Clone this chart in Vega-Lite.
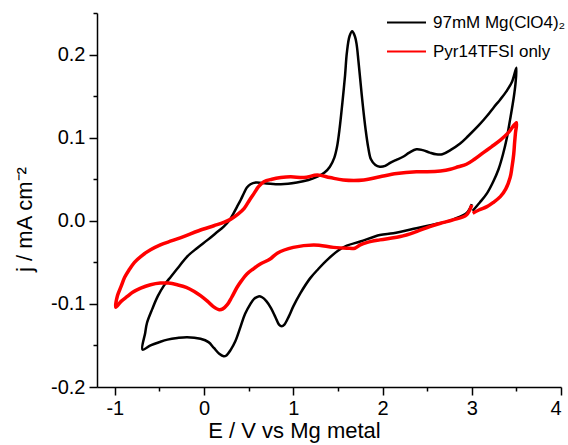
{
  "$schema": "https://vega.github.io/schema/vega-lite/v6.json",
  "width": 464,
  "height": 374,
  "autosize": "none",
  "padding": {"left": 97, "top": 13, "right": 7, "bottom": 58},
  "background": "white",
  "config": {"view": {"stroke": null}, "font": "Liberation Sans"},
  "datasets": {
    "mg": [
      {"i":0,"x":3.00,"y":0.020},{"i":1,"x":2.94,"y":0.009},{"i":2,"x":2.80,"y":0.002},{"i":3,"x":2.72,"y":-0.001},{"i":4,"x":2.55,"y":-0.005},{"i":5,"x":2.38,"y":-0.009},{"i":6,"x":2.12,"y":-0.015},{"i":7,"x":1.97,"y":-0.017},{"i":8,"x":1.75,"y":-0.025},{"i":9,"x":1.60,"y":-0.030},{"i":10,"x":1.50,"y":-0.036},{"i":11,"x":1.38,"y":-0.047},{"i":12,"x":1.28,"y":-0.058},{"i":13,"x":1.19,"y":-0.069},{"i":14,"x":1.08,"y":-0.087},{"i":15,"x":1.00,"y":-0.103},{"i":16,"x":0.95,"y":-0.115},{"i":17,"x":0.90,"y":-0.125},{"i":18,"x":0.87,"y":-0.127},{"i":19,"x":0.84,"y":-0.125},{"i":20,"x":0.80,"y":-0.116},{"i":21,"x":0.75,"y":-0.105},{"i":22,"x":0.70,"y":-0.097},{"i":23,"x":0.65,"y":-0.092},{"i":24,"x":0.61,"y":-0.091},{"i":25,"x":0.56,"y":-0.094},{"i":26,"x":0.52,"y":-0.100},{"i":27,"x":0.46,"y":-0.112},{"i":28,"x":0.41,"y":-0.127},{"i":29,"x":0.35,"y":-0.145},{"i":30,"x":0.30,"y":-0.155},{"i":31,"x":0.25,"y":-0.162},{"i":32,"x":0.22,"y":-0.163},{"i":33,"x":0.17,"y":-0.160},{"i":34,"x":0.11,"y":-0.153},{"i":35,"x":0.05,"y":-0.146},{"i":36,"x":-0.04,"y":-0.142},{"i":37,"x":-0.19,"y":-0.140},{"i":38,"x":-0.30,"y":-0.141},{"i":39,"x":-0.41,"y":-0.143},{"i":40,"x":-0.50,"y":-0.146},{"i":41,"x":-0.60,"y":-0.150},{"i":42,"x":-0.69,"y":-0.155},
      {"i":43,"x":-0.66,"y":-0.135},{"i":44,"x":-0.64,"y":-0.123},{"i":45,"x":-0.58,"y":-0.106},{"i":46,"x":-0.52,"y":-0.091},{"i":47,"x":-0.45,"y":-0.078},{"i":48,"x":-0.37,"y":-0.067},{"i":49,"x":-0.28,"y":-0.055},{"i":50,"x":-0.19,"y":-0.043},{"i":51,"x":-0.08,"y":-0.033},{"i":52,"x":0.04,"y":-0.023},{"i":53,"x":0.13,"y":-0.015},{"i":54,"x":0.22,"y":-0.007},{"i":55,"x":0.28,"y":0.000},{"i":56,"x":0.33,"y":0.009},{"i":57,"x":0.37,"y":0.017},{"i":58,"x":0.41,"y":0.025},{"i":59,"x":0.45,"y":0.034},{"i":60,"x":0.48,"y":0.040},{"i":61,"x":0.52,"y":0.044},{"i":62,"x":0.58,"y":0.046},{"i":63,"x":0.70,"y":0.045},{"i":64,"x":0.86,"y":0.044},{"i":65,"x":1.04,"y":0.046},{"i":66,"x":1.17,"y":0.049},{"i":67,"x":1.27,"y":0.053},{"i":68,"x":1.35,"y":0.058},{"i":69,"x":1.41,"y":0.065},{"i":70,"x":1.46,"y":0.076},{"i":71,"x":1.49,"y":0.089},{"i":72,"x":1.52,"y":0.112},{"i":73,"x":1.55,"y":0.142},{"i":74,"x":1.58,"y":0.175},{"i":75,"x":1.60,"y":0.202},{"i":76,"x":1.63,"y":0.222},{"i":77,"x":1.66,"y":0.228},{"i":78,"x":1.69,"y":0.222},{"i":79,"x":1.71,"y":0.212},{"i":80,"x":1.73,"y":0.192},{"i":81,"x":1.75,"y":0.170},{"i":82,"x":1.78,"y":0.138},{"i":83,"x":1.81,"y":0.110},{"i":84,"x":1.84,"y":0.088},{"i":85,"x":1.87,"y":0.074},{"i":86,"x":1.92,"y":0.067},{"i":87,"x":1.97,"y":0.065},{"i":88,"x":2.03,"y":0.066},{"i":89,"x":2.09,"y":0.070},{"i":90,"x":2.15,"y":0.073},{"i":91,"x":2.23,"y":0.077},{"i":92,"x":2.30,"y":0.082},{"i":93,"x":2.38,"y":0.086},{"i":94,"x":2.45,"y":0.085},{"i":95,"x":2.53,"y":0.082},{"i":96,"x":2.60,"y":0.080},{"i":97,"x":2.67,"y":0.080},{"i":98,"x":2.76,"y":0.085},{"i":99,"x":2.87,"y":0.093},{"i":100,"x":2.96,"y":0.102},{"i":101,"x":3.08,"y":0.115},{"i":102,"x":3.17,"y":0.126},{"i":103,"x":3.25,"y":0.137},{"i":104,"x":3.32,"y":0.146},{"i":105,"x":3.39,"y":0.156},{"i":106,"x":3.45,"y":0.167},{"i":107,"x":3.50,"y":0.184},
      {"i":108,"x":3.49,"y":0.165},{"i":109,"x":3.47,"y":0.148},{"i":110,"x":3.43,"y":0.122},{"i":111,"x":3.39,"y":0.098},{"i":112,"x":3.35,"y":0.080},{"i":113,"x":3.30,"y":0.062},{"i":114,"x":3.24,"y":0.047},{"i":115,"x":3.17,"y":0.033},{"i":116,"x":3.09,"y":0.022},{"i":117,"x":3.01,"y":0.012}
    ],
    "pyr": [
      {"i":0,"x":3.00,"y":0.019},{"i":1,"x":2.94,"y":0.007},{"i":2,"x":2.79,"y":0.001},{"i":3,"x":2.65,"y":-0.003},{"i":4,"x":2.53,"y":-0.007},{"i":5,"x":2.38,"y":-0.013},{"i":6,"x":2.20,"y":-0.019},{"i":7,"x":1.97,"y":-0.023},{"i":8,"x":1.83,"y":-0.026},{"i":9,"x":1.75,"y":-0.029},{"i":10,"x":1.69,"y":-0.033},{"i":11,"x":1.60,"y":-0.033},{"i":12,"x":1.45,"y":-0.032},{"i":13,"x":1.23,"y":-0.029},{"i":14,"x":1.00,"y":-0.032},{"i":15,"x":0.82,"y":-0.039},{"i":16,"x":0.74,"y":-0.046},{"i":17,"x":0.63,"y":-0.052},{"i":18,"x":0.55,"y":-0.058},{"i":19,"x":0.48,"y":-0.064},{"i":20,"x":0.42,"y":-0.072},{"i":21,"x":0.37,"y":-0.080},{"i":22,"x":0.31,"y":-0.092},{"i":23,"x":0.26,"y":-0.101},{"i":24,"x":0.21,"y":-0.106},{"i":25,"x":0.17,"y":-0.107},{"i":26,"x":0.10,"y":-0.103},{"i":27,"x":0.04,"y":-0.097},{"i":28,"x":-0.04,"y":-0.090},{"i":29,"x":-0.11,"y":-0.085},{"i":30,"x":-0.20,"y":-0.080},{"i":31,"x":-0.30,"y":-0.077},{"i":32,"x":-0.40,"y":-0.075},{"i":33,"x":-0.49,"y":-0.075},{"i":34,"x":-0.60,"y":-0.077},{"i":35,"x":-0.71,"y":-0.081},{"i":36,"x":-0.80,"y":-0.086},{"i":37,"x":-0.86,"y":-0.091},{"i":38,"x":-0.93,"y":-0.097},{"i":39,"x":-0.99,"y":-0.104},
      {"i":40,"x":-0.97,"y":-0.090},{"i":41,"x":-0.93,"y":-0.079},{"i":42,"x":-0.89,"y":-0.068},{"i":43,"x":-0.84,"y":-0.059},{"i":44,"x":-0.78,"y":-0.050},{"i":45,"x":-0.71,"y":-0.043},{"i":46,"x":-0.60,"y":-0.035},{"i":47,"x":-0.49,"y":-0.029},{"i":48,"x":-0.36,"y":-0.024},{"i":49,"x":-0.23,"y":-0.019},{"i":50,"x":-0.06,"y":-0.012},{"i":51,"x":0.11,"y":-0.006},{"i":52,"x":0.22,"y":-0.002},{"i":53,"x":0.30,"y":0.002},{"i":54,"x":0.38,"y":0.008},{"i":55,"x":0.45,"y":0.015},{"i":56,"x":0.51,"y":0.025},{"i":57,"x":0.56,"y":0.033},{"i":58,"x":0.61,"y":0.041},{"i":59,"x":0.67,"y":0.047},{"i":60,"x":0.76,"y":0.050},{"i":61,"x":0.86,"y":0.052},{"i":62,"x":0.97,"y":0.053},{"i":63,"x":1.12,"y":0.052},{"i":64,"x":1.27,"y":0.055},{"i":65,"x":1.41,"y":0.052},{"i":66,"x":1.56,"y":0.049},{"i":67,"x":1.79,"y":0.049},{"i":68,"x":1.97,"y":0.053},{"i":69,"x":2.16,"y":0.057},{"i":70,"x":2.38,"y":0.059},{"i":71,"x":2.50,"y":0.059},{"i":72,"x":2.65,"y":0.060},{"i":73,"x":2.76,"y":0.062},{"i":74,"x":2.85,"y":0.065},{"i":75,"x":2.94,"y":0.068},{"i":76,"x":3.03,"y":0.074},{"i":77,"x":3.13,"y":0.082},{"i":78,"x":3.22,"y":0.089},{"i":79,"x":3.32,"y":0.097},{"i":80,"x":3.41,"y":0.106},{"i":81,"x":3.50,"y":0.118},
      {"i":82,"x":3.49,"y":0.106},{"i":83,"x":3.48,"y":0.094},{"i":84,"x":3.47,"y":0.080},{"i":85,"x":3.45,"y":0.064},{"i":86,"x":3.43,"y":0.052},{"i":87,"x":3.38,"y":0.038},{"i":88,"x":3.32,"y":0.029},{"i":89,"x":3.24,"y":0.022},{"i":90,"x":3.17,"y":0.017},{"i":91,"x":3.08,"y":0.013},{"i":92,"x":3.01,"y":0.009}
    ]
  },
  "layer": [
    {
      "data": {"name": "mg"},
      "mark": {"type": "line", "strokeWidth": 2.5, "interpolate": "catmull-rom"},
      "encoding": {
        "x": {"field": "x", "type": "quantitative",
          "scale": {"domain": [-1.2, 4], "nice": false, "zero": false},
          "axis": {"orient": "bottom", "values": [-1, 0, 1, 2, 3, 4], "grid": false,
            "labelExpr": "datum.value < 0 ? '-' + format(-datum.value, 'd') : format(datum.value, 'd')",
            "tickSize": 8, "tickWidth": 1.5, "tickColor": "black", "domainColor": "black", "domainWidth": 1.5,
            "labelFontSize": 20, "labelColor": "black", "labelPadding": 3, "labelFont": "Liberation Sans",
            "title": "E / V vs Mg metal", "titleFontSize": 22, "titleFontWeight": "normal", "titleColor": "black",
            "titleFont": "Liberation Sans", "titleX": 197, "titleY": 33}},
        "y": {"field": "y", "type": "quantitative",
          "scale": {"domain": [-0.2, 0.25], "nice": false, "zero": false},
          "axis": {"orient": "left", "values": [-0.2, -0.1, 0, 0.1, 0.2], "grid": false,
            "labelExpr": "datum.value < 0 ? '-' + format(-datum.value, '.1f') : format(datum.value, '.1f')",
            "tickSize": 8, "tickWidth": 1.5, "tickColor": "black", "domainColor": "black", "domainWidth": 1.5,
            "labelFontSize": 20, "labelColor": "black", "labelPadding": 4, "labelFont": "Liberation Sans",
            "title": "j / mA cm⁻²", "titleFontSize": 22, "titleFontWeight": "normal", "titleColor": "black",
            "titleFont": "Liberation Sans", "titleY": 206, "titleX": -61}},
        "order": {"field": "i", "type": "quantitative"},
        "color": {"datum": "97mM Mg(ClO4)₂", "type": "nominal",
          "scale": {"domain": ["97mM Mg(ClO4)₂", "Pyr14TFSI only"], "range": ["#000000", "#ff0000"]},
          "legend": {"orient": "none", "legendX": 289, "legendY": -11, "title": null,
            "symbolType": "stroke", "symbolSize": 1521, "symbolStrokeWidth": 2,
            "labelFontSize": 17, "labelFont": "Liberation Sans", "labelColor": "black", "labelOffset": 6, "rowPadding": -13}}
      }
    },
    {
      "data": {"name": "pyr"},
      "mark": {"type": "line", "strokeWidth": 3.5, "interpolate": "catmull-rom"},
      "encoding": {
        "x": {"field": "x", "type": "quantitative",
          "axis": {"orient": "bottom", "values": [-0.5, 0.5, 1.5, 2.5, 3.5], "labels": false, "domain": false, "grid": false,
            "tickSize": 4, "tickWidth": 1.5, "tickColor": "black", "title": null}},
        "y": {"field": "y", "type": "quantitative",
          "axis": {"orient": "left", "values": [-0.15, -0.05, 0.05, 0.15, 0.25], "labels": false, "domain": false, "grid": false,
            "tickSize": 4, "tickWidth": 1.5, "tickColor": "black", "title": null}},
        "order": {"field": "i", "type": "quantitative"},
        "color": {"datum": "Pyr14TFSI only", "type": "nominal"}
      }
    }
  ],
  "resolve": {"axis": {"x": "independent", "y": "independent"}}
}
